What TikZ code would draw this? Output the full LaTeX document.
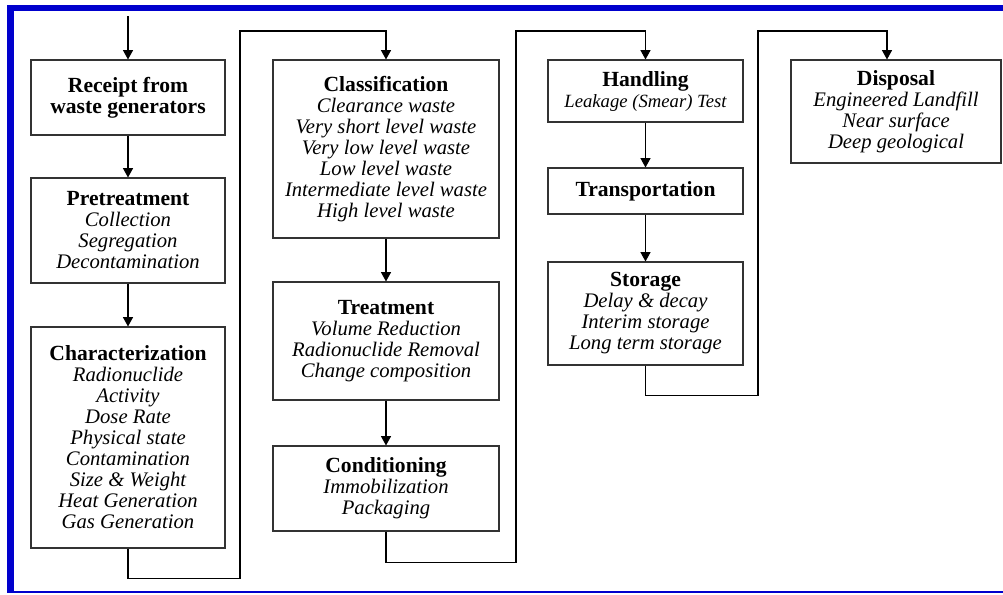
\documentclass[tikz,border=0pt]{standalone}
\usepackage{fontspec}
\setmainfont{Liberation Serif}
\usetikzlibrary{arrows.meta}

\definecolor{frameblue}{RGB}{0,0,205}
\newcommand{\stagetitle}[1]{\textup{\bfseries\fontsize{16.2}{15.75}\selectfont #1}}

\tikzset{
  stage/.style={draw=black!80, line width=0.8pt, fill=white, align=center, inner sep=2pt,
    font=\itshape\fontsize{15.5}{15.75}\selectfont},
  flow/.style={line width=0.8pt, -{Triangle[length=7pt,width=7.5pt]}},
}

\begin{document}
\begin{tikzpicture}[x=0.75pt,y=-0.75pt]
\useasboundingbox (0,0) rectangle (1003,594);
\fill[white] (0,0) rectangle (1003,594);
% frame
\fill[frameblue] (7,5) rectangle (1003,11);
\fill[frameblue] (7,5) rectangle (14,593);
\draw[frameblue, line width=1.5pt] (7,592) -- (1003,592);

% first column
\coordinate (start) at (128,16);
\node[stage, minimum width=145.5pt, minimum height=56.25pt] (receipt) at (128,97.5)
  {\stagetitle{Receipt from}\\\stagetitle{waste generators}};
\node[stage, minimum width=145.5pt, minimum height=78.75pt] (pretreat) at (128,230.5)
  {\stagetitle{Pretreatment}\\Collection\\Segregation\\Decontamination};
\node[stage, minimum width=145.5pt, minimum height=165.75pt] (charact) at (128,437.5)
  {\stagetitle{Characterization}\\Radionuclide\\Activity\\Dose Rate\\Physical state\\Contamination\\Size \& Weight\\Heat Generation\\Gas Generation};

% second column
\node[stage, minimum width=169.5pt, minimum height=133.5pt] (classif) at (386,149)
  {\stagetitle{Classification}\\Clearance waste\\Very short level waste\\Very low level waste\\Low level waste\\Intermediate level waste\\High level waste};
\node[stage, minimum width=169.5pt, minimum height=88.5pt] (treat) at (386,341)
  {\stagetitle{Treatment}\\Volume Reduction\\Radionuclide Removal\\Change composition};
\node[stage, minimum width=169.5pt, minimum height=63.75pt] (condit) at (386,488.5)
  {\stagetitle{Conditioning}\\Immobilization\\Packaging};

% third column
\node[stage, minimum width=146.25pt, minimum height=46.5pt] (handling) at (645.5,91)
  {\stagetitle{Handling}\\{\fontsize{14}{15}\selectfont Leakage (Smear) Test}};
\node[stage, minimum width=146.25pt, minimum height=34.5pt] (transport) at (645.5,191)
  {\stagetitle{Transportation}};
\node[stage, minimum width=146.25pt, minimum height=77.25pt] (storage) at (645.5,313.5)
  {\stagetitle{Storage}\\Delay \& decay\\Interim storage\\Long term storage};

% last column
\node[stage, minimum width=157.5pt, minimum height=77.25pt] (disposal) at (896,111.5)
  {\stagetitle{Disposal}\\Engineered Landfill\\Near surface\\Deep geological};

% connectors
\draw[flow] (start) -- (receipt);
\draw[flow] (receipt) -- (pretreat);
\draw[flow] (pretreat) -- (charact);
\draw[flow] (charact.south) -- ++(0,30) -| (240,31) -| (classif.north);
\draw[flow] (classif) -- (treat);
\draw[flow] (treat) -- (condit);
\draw[flow] (condit.south) -- ++(0,31) -| (516,31) -| (handling.north);
\draw[flow] (handling) -- (transport);
\draw[flow] (transport) -- (storage);
\draw[flow] (storage.south) -- ++(0,30) -| (758,31) -| ([xshift=-6.75pt]disposal.north);
\end{tikzpicture}
\end{document}
